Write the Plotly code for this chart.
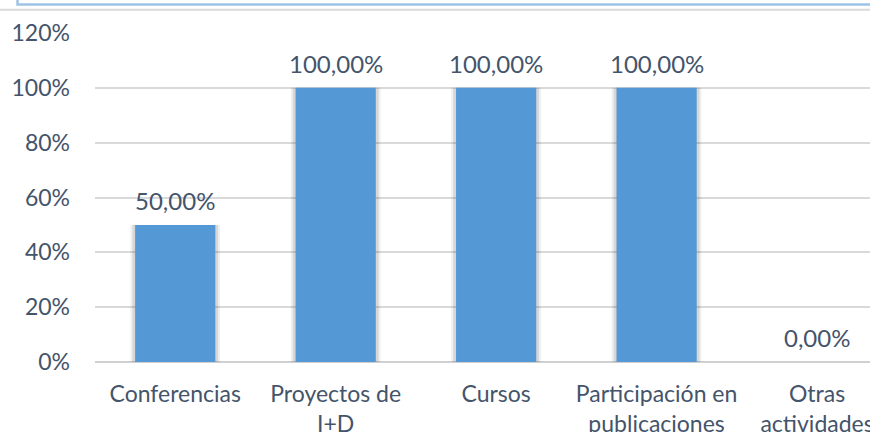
import plotly.graph_objects as go

categories = ["Conferencias", "Proyectos de<br>I+D", "Cursos", "Participación en<br>publicaciones", "Otras<br>actividades"]
values = [0.50, 1.00, 1.00, 1.00, 0.00]
labels = ["50,00%", "100,00%", "100,00%", "100,00%", "0,00%"]
y_ticks = [0, 0.2, 0.4, 0.6, 0.8, 1.0, 1.2]
y_tick_text = ["0%", "20%", "40%", "60%", "80%", "100%", "120%"]

text_color = "#44546a"
font_family = "Lato, 'Open Sans', sans-serif"

x_idx = list(range(len(categories)))

fig = go.Figure()

# soft shadow behind bars (two layers for a blurred look)
for w, a, pad in [(0.56, 0.06, 0.016), (0.535, 0.10, 0.010)]:
    fig.add_trace(go.Bar(
        x=x_idx,
        y=[v + pad if v > 0 else 0 for v in values],
        base=[-pad if v > 0 else 0 for v in values],
        width=w,
        marker=dict(color=f"rgba(0,0,0,{a})", line=dict(width=0)),
        hoverinfo="skip",
        showlegend=False,
    ))

fig.add_trace(go.Bar(
    x=x_idx,
    y=values,
    width=0.5,
    marker=dict(color="#5598d6", line=dict(width=0)),
    showlegend=False,
))

for i, (v, t) in enumerate(zip(values, labels)):
    fig.add_annotation(
        x=i, y=v, text=t, showarrow=False,
        yanchor="bottom", yshift=8,
        font=dict(family=font_family, size=24, color=text_color),
    )

# top decorations (frame edge remnants)
fig.add_shape(type="rect", xref="paper", yref="paper",
              x0=-0.1, x1=1.2, y0=1.087, y1=1.2,
              line=dict(color="#9dc3e6", width=2.5), fillcolor="rgba(0,0,0,0)")
fig.add_shape(type="line", xref="paper", yref="paper",
              x0=-0.2, x1=1.2, y0=1.071, y1=1.071,
              line=dict(color="#d9d9d9", width=2))

fig.update_layout(
    width=870, height=432,
    margin=dict(l=95, r=0, t=33, b=70, autoexpand=False),
    paper_bgcolor="white", plot_bgcolor="white",
    barmode="overlay",
    font=dict(family=font_family, size=23, color=text_color),
)

fig.update_xaxes(
    tickmode="array", tickvals=x_idx, ticktext=categories,
    range=[-0.5, 4.33], automargin=False, ticklabeloverflow="allow",
    showgrid=False, showline=False, zeroline=False,
    ticks="", ticklabelstandoff=16, tickfont=dict(size=23, color=text_color),
)
fig.update_yaxes(
    range=[0, 1.2], automargin=False,
    tickmode="array", tickvals=y_ticks, ticktext=y_tick_text,
    showgrid=True, gridcolor="#d9d9d9", gridwidth=1.5,
    zeroline=True, zerolinecolor="#d0d0d0", zerolinewidth=2,
    showline=False, ticks="", ticklabelstandoff=24,
    tickfont=dict(size=23, color=text_color),
)

fig.write_html("out.html", config={"displayModeBar": False},
               post_script="document.body.style.margin='0';")
